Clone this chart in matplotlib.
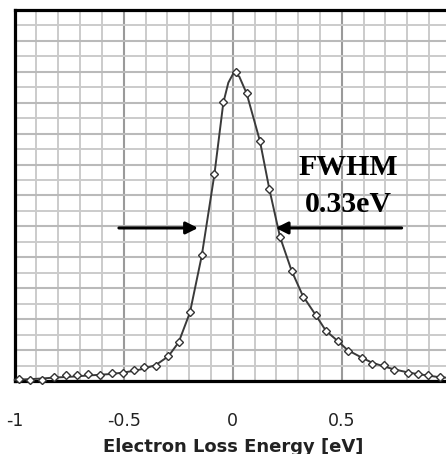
import matplotlib
matplotlib.use("Agg")
import matplotlib.pyplot as plt
from matplotlib.ticker import MultipleLocator

# Measured spectrum (diamond markers)
x_meas = [-0.979, -0.930, -0.876, -0.820, -0.764, -0.716, -0.662, -0.609, -0.554,
          -0.505, -0.452, -0.406, -0.352, -0.295, -0.248, -0.196, -0.142, -0.084,
          -0.043, 0.015, 0.064, 0.125, 0.168, 0.217, 0.270, 0.322, 0.384, 0.427,
          0.484, 0.527, 0.594, 0.637, 0.694, 0.739, 0.802, 0.851, 0.894, 0.950]
y_meas = [0.006, 0.003, 0.002, 0.013, 0.019, 0.018, 0.023, 0.018, 0.026,
          0.027, 0.034, 0.044, 0.049, 0.082, 0.127, 0.224, 0.406, 0.671,
          0.903, 0.998, 0.933, 0.776, 0.621, 0.466, 0.357, 0.273, 0.214, 0.161,
          0.128, 0.097, 0.075, 0.056, 0.051, 0.034, 0.025, 0.024, 0.018, 0.012]

# Solid curve
x_line = [-1.0, -0.930, -0.876, -0.820, -0.764, -0.716, -0.662, -0.609, -0.554,
          -0.505, -0.452, -0.406, -0.352, -0.295, -0.248, -0.196, -0.142, -0.084,
          -0.043, -0.020, 0.003, 0.030, 0.064, 0.125, 0.168, 0.217, 0.270, 0.322,
          0.384, 0.427, 0.484, 0.527, 0.594, 0.637, 0.694, 0.739, 0.802, 0.851,
          0.894, 0.950, 1.0]
y_line = [0.004, 0.006, 0.008, 0.011, 0.013, 0.015, 0.018, 0.020, 0.023,
          0.027, 0.033, 0.040, 0.052, 0.080, 0.125, 0.222, 0.405, 0.668,
          0.900, 0.965, 0.995, 0.985, 0.930, 0.776, 0.621, 0.466, 0.357, 0.275,
          0.210, 0.163, 0.128, 0.100, 0.075, 0.060, 0.047, 0.038, 0.028, 0.022,
          0.018, 0.012, 0.010]

xtick_vals = [-1, -0.5, 0, 0.5, 1]
xtick_labels = ["-1", "-0.5", "0", "0.5", "1"]
xlabel = "Electron Loss Energy [eV]"
fwhm_lines = ["FWHM", "0.33eV"]

W, H = 446, 454
fig = plt.figure(figsize=(W / 100, H / 100), dpi=100)
ax = fig.add_axes([14.7 / W, (H - 381) / H, 436 / W, 371 / H])

ax.set_xlim(-1, 1)
ax.set_ylim(0, 1.2)

ax.xaxis.set_major_locator(MultipleLocator(0.5))
ax.xaxis.set_minor_locator(MultipleLocator(0.1))
ax.yaxis.set_major_locator(MultipleLocator(0.1))
ax.yaxis.set_minor_locator(MultipleLocator(0.05))
ax.grid(which="minor", color="#cbcbcb", lw=1.4)
ax.grid(which="major", axis="y", color="#bababa", lw=1.5)
ax.grid(which="major", axis="x", color="#9a9a9a", lw=1.5)
ax.set_axisbelow(True)

ax.set_xticks(xtick_vals)
ax.set_xticklabels(xtick_labels)
ax.tick_params(axis="both", which="both", length=0)
ax.tick_params(axis="x", pad=22, labelsize=12.5, labelcolor="#222222")
ax.set_yticklabels([])

for s in ["left", "top", "bottom"]:
    ax.spines[s].set_linewidth(2.3)
    ax.spines[s].set_color("black")
ax.spines["right"].set_visible(False)

ax.plot(x_line, y_line, color="#3a3a3a", lw=1.4, zorder=3, clip_on=False)
ax.plot(x_meas, y_meas, ls="none", marker="D", ms=4.3, mfc="white",
        mec="#333333", mew=1.0, zorder=4, clip_on=False)

# FWHM arrows
arrow_y = 0.495
ax.annotate("", xy=(-0.159, arrow_y), xytext=(-0.522, arrow_y),
            arrowprops=dict(arrowstyle="-|>", lw=2.2, color="black",
                            mutation_scale=18, shrinkA=0, shrinkB=0), zorder=5)
ax.annotate("", xy=(0.197, arrow_y), xytext=(0.775, arrow_y),
            arrowprops=dict(arrowstyle="-|>", lw=2.2, color="black",
                            mutation_scale=18, shrinkA=0, shrinkB=0), zorder=5)

fig.text(348 / W, 1 - 175 / H, fwhm_lines[0], ha="center", va="baseline",
         family="Liberation Serif", weight="bold", fontsize=21.5)
fig.text(348 / W, 1 - 211.7 / H, fwhm_lines[1], ha="center", va="baseline",
         family="Liberation Serif", weight="bold", fontsize=21.5)

fig.text(233 / W, 1 - 452 / H, xlabel, ha="center", va="baseline",
         weight="bold", fontsize=13, color="#222222")

fig.savefig("out.png", dpi=100)
